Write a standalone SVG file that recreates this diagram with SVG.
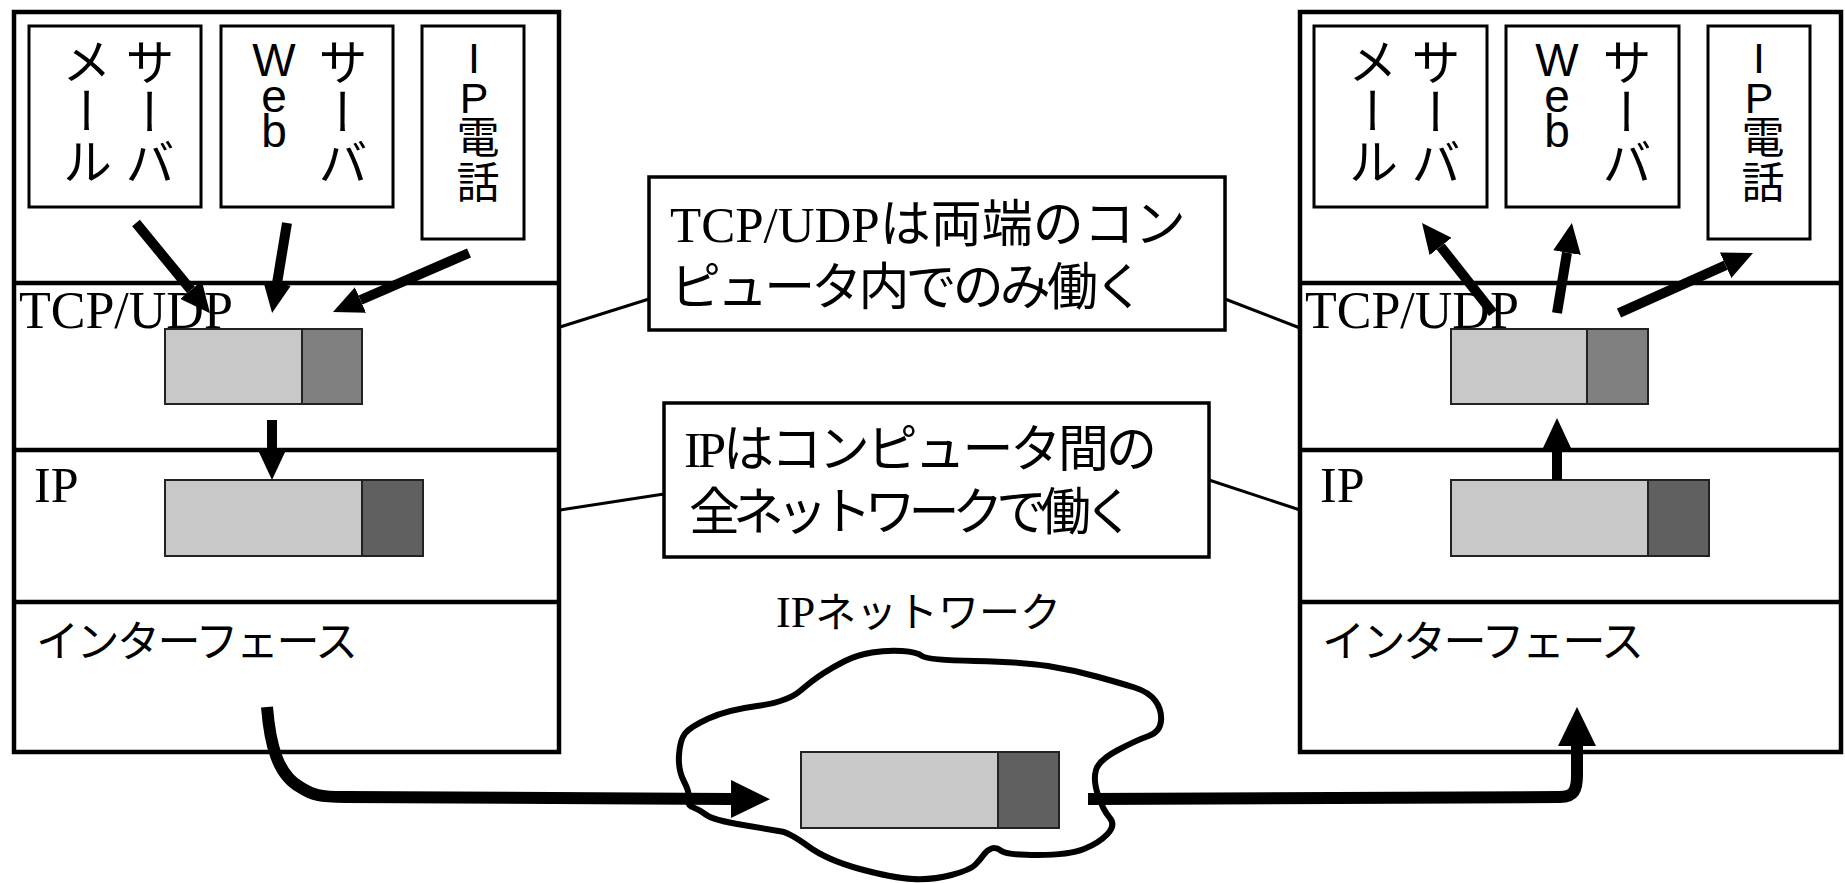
<svg xmlns="http://www.w3.org/2000/svg" width="1845" height="883" viewBox="0 0 1845 883">
<defs>
<style>
.frame{fill:#fff;stroke:#000;stroke-width:4.5}
.sep{stroke:#000;stroke-width:4.5}
.app{fill:#fff;stroke:#000;stroke-width:3}
.call{fill:#fff;stroke:#000;stroke-width:3.5}
.thin{stroke:#000;stroke-width:3;fill:none}
.arr{stroke:#000;stroke-width:10;fill:none}
.thick{stroke:#000;stroke-width:12;fill:none;stroke-linejoin:round}
.pl{fill:#c8c8c8;stroke:#222;stroke-width:2}
.pt{fill:#808080;stroke:#222;stroke-width:2}
.pi{fill:#606060;stroke:#222;stroke-width:2}
.serif{font-family:"Liberation Serif","Noto Sans CJK JP",serif;fill:#000}
.jp{font-family:"Noto Sans CJK JP",sans-serif;fill:#000}
.mix{font-family:"Liberation Serif","Noto Sans CJK JP",serif;fill:#000}
.vt{font-family:"Liberation Sans","Noto Sans CJK JP",sans-serif;font-size:50px;writing-mode:vertical-rl;text-orientation:upright;fill:#000}
.vw{font-family:"Liberation Sans","Noto Sans CJK JP",sans-serif;font-size:46px;writing-mode:vertical-rl;text-orientation:upright;fill:#000}
.vs{font-family:"Liberation Sans","Noto Sans CJK JP",sans-serif;font-size:43px;writing-mode:vertical-rl;text-orientation:upright;fill:#000}
.cloud{fill:#fff;stroke:#000;stroke-width:6;stroke-linejoin:round}
</style>
<marker id="ah" viewBox="0 0 30 28" refX="0" refY="14" markerWidth="30" markerHeight="28" markerUnits="userSpaceOnUse" orient="auto">
<path d="M0,0 L30,14 L0,28 Z" fill="#000"/>
</marker>
<marker id="ahBig" viewBox="0 0 39 38" refX="0" refY="19" markerWidth="39" markerHeight="38" markerUnits="userSpaceOnUse" orient="auto">
<path d="M0,0 L39,19 L0,38 Z" fill="#000"/>
</marker>
</defs>
<rect width="1845" height="883" fill="#fff"/>

<g id="left-stack">
<rect class="frame" x="14" y="12" width="545" height="740"/>
<line class="sep" x1="14" y1="283" x2="559" y2="283"/>
<line class="sep" x1="14" y1="450" x2="559" y2="450"/>
<line class="sep" x1="14" y1="602" x2="559" y2="602"/>
<text class="serif" x="19" y="328" font-size="52">TCP/UDP</text>
<text class="serif" x="34" y="502" font-size="50">IP</text>
<text class="jp" x="36" y="657" font-size="43" textLength="322">インターフェース</text>
</g>
<g id="left-mail">
<rect class="app" x="29" y="26" width="172" height="181"/>
<text class="vt" x="82" y="36">メール</text>
<text class="vt" x="145" y="37">サーバ</text>
</g>
<g id="left-web">
<rect class="app" x="221" y="26" width="172" height="181"/>
<text class="vw" x="274" y="34 70 105">Web</text>
<text class="vt" x="338" y="37">サーバ</text>
</g>
<g id="left-phone">
<rect class="app" x="422" y="26" width="102" height="213"/>
<text class="vs" x="474" y="34 74 115 160">IP電話</text>
</g>
<g id="left-tcp-packet">
<rect class="pl" x="165" y="329" width="137" height="75"/>
<rect class="pt" x="302" y="329" width="60" height="75"/>
</g>
<g id="left-ip-packet">
<rect class="pl" x="165" y="480" width="197" height="76"/>
<rect class="pi" x="362" y="480" width="61" height="76"/>
</g>

<g id="right-stack">
<rect class="frame" x="1300" y="12" width="541" height="740"/>
<line class="sep" x1="1300" y1="283" x2="1841" y2="283"/>
<line class="sep" x1="1300" y1="450" x2="1841" y2="450"/>
<line class="sep" x1="1300" y1="602" x2="1841" y2="602"/>
<text class="serif" x="1305" y="328" font-size="52">TCP/UDP</text>
<text class="serif" x="1320" y="502" font-size="50">IP</text>
<text class="jp" x="1322" y="657" font-size="43" textLength="322">インターフェース</text>
</g>
<g id="right-mail">
<rect class="app" x="1314" y="26" width="173" height="181"/>
<text class="vt" x="1368" y="36">メール</text>
<text class="vt" x="1431" y="37">サーバ</text>
</g>
<g id="right-web">
<rect class="app" x="1506" y="26" width="173" height="181"/>
<text class="vw" x="1557" y="34 70 105">Web</text>
<text class="vt" x="1622" y="37">サーバ</text>
</g>
<g id="right-phone">
<rect class="app" x="1708" y="26" width="102" height="213"/>
<text class="vs" x="1759" y="34 74 115 160">IP電話</text>
</g>
<g id="right-tcp-packet">
<rect class="pl" x="1451" y="329" width="136" height="75"/>
<rect class="pt" x="1587" y="329" width="61" height="75"/>
</g>
<g id="right-ip-packet">
<rect class="pl" x="1451" y="480" width="197" height="76"/>
<rect class="pi" x="1648" y="480" width="61" height="76"/>
</g>

<g id="network">
<path class="cloud" d="M684,781.5 Q678,770 679,755 Q680,740 685,733.5 Q690,727 708.5,718.5 Q727,710 757,706 Q787,702 800,691 Q813,680 823,673.5 Q833,667 845,661 Q857,655 872,652.5 Q887,650 902,651 Q917,652 922,656 Q927,660 975,661 Q1023,662 1048,666 Q1073,670 1096.5,676.5 Q1120,683 1134.5,687.5 Q1149,692 1155.5,701 Q1162,710 1161,721 Q1160,732 1148.5,736 Q1137,740 1118,750 Q1099,760 1096,770 Q1093,780 1098,795 Q1103,810 1109.5,817.5 Q1116,825 1107.5,834 Q1099,843 1084,849 Q1069,855 1038,855 Q1007,855 1001.5,851 Q996,847 991.5,848.5 Q987,850 983.5,855 Q980,860 975,865 Q970,870 951.5,875 Q933,880 913,879 Q893,878 860,869 Q827,860 808.5,846.5 Q790,833 781.5,831.5 Q773,830 743,825 Q713,820 706.5,815 Q700,810 693.5,807.5 Q687,805 688.5,799 Q690,793 684,781.5 Z"/>
<text class="mix" x="776" y="627"><tspan font-size="44">IP</tspan><tspan class="jp" font-size="41">ネットワーク</tspan></text>
</g>
<g id="net-packet">
<rect class="pl" x="801" y="752" width="197" height="76"/>
<rect class="pi" x="998" y="752" width="61" height="76"/>
</g>

<g id="callout-tcp">
<rect class="call" x="649" y="177" width="576" height="153"/>
<text class="mix" font-size="51"><tspan x="670" y="242">TCP/UDPは両端のコン</tspan><tspan x="670" y="305" textLength="475">ピュータ内でのみ働く</tspan></text>
</g>
<g id="callout-ip">
<rect class="call" x="664" y="403" width="545" height="154"/>
<text class="mix" font-size="51"><tspan x="684" y="467" textLength="473">IPはコンピュータ間の</tspan><tspan x="689" y="530" textLength="446">全ネットワークで働く</tspan></text>
</g>

<g id="connectors">
<line class="thin" x1="560" y1="327" x2="649" y2="299"/>
<line class="thin" x1="1225" y1="299" x2="1300" y2="328"/>
<line class="thin" x1="560" y1="510" x2="664" y2="494"/>
<line class="thin" x1="1209" y1="480" x2="1300" y2="510"/>
<line class="arr" x1="136" y1="223" x2="191" y2="290" marker-end="url(#ah)"/>
<line class="arr" x1="287" y1="223" x2="277" y2="283.4" marker-end="url(#ah)"/>
<line class="arr" x1="469" y1="253" x2="360.5" y2="300" marker-end="url(#ah)"/>
<line class="arr" x1="272" y1="420" x2="272" y2="450" marker-end="url(#ah)"/>
<line class="arr" x1="1493" y1="313" x2="1440.6" y2="246.5" marker-end="url(#ah)"/>
<line class="arr" x1="1557" y1="313" x2="1567" y2="252.6" marker-end="url(#ah)"/>
<line class="arr" x1="1619" y1="313" x2="1725.6" y2="265.3" marker-end="url(#ah)"/>
<line class="arr" x1="1557" y1="480" x2="1557" y2="448" marker-end="url(#ah)"/>
<path class="thick" d="M267,707 C270,745 278,775 300,787 C312,795 320,797 345,797 L731,799" marker-end="url(#ahBig)"/>
<path class="thick" d="M1088,799 L1560,797 C1574,797 1577,790 1577,775 L1577,746" marker-end="url(#ahBig)"/>
</g>
</svg>
